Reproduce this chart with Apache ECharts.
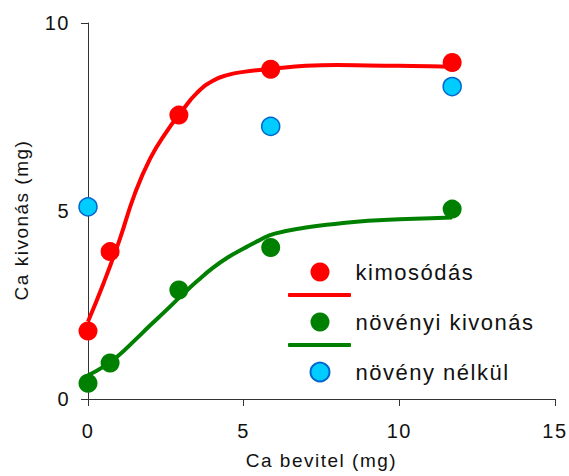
<!DOCTYPE html>
<html>
<head>
<meta charset="utf-8">
<script src="https://cdn.jsdelivr.net/npm/echarts@6/dist/echarts.min.js"></script>
<style>
html, body { margin: 0; padding: 0; background: #fff; }
#chart { width: 569px; height: 476px; }
#chart svg text { letter-spacing: 1.5px; }
</style>
</head>
<body>
<div id="chart"></div>
<script>
// Measured points
const kimosodasX = [0, 0.71, 2.92, 5.87, 11.7];
const kimosodasY = [1.81, 3.92, 7.55, 8.77, 8.95];
const novenyiX = [0, 0.71, 2.92, 5.87, 11.7];
const novenyiY = [0.42, 0.96, 2.90, 4.03, 5.05];
const nelkulX = [0, 5.87, 11.7];
const nelkulY = [5.11, 7.25, 8.31];
// Fitted curves
const kimCurveX = [0, 0.5, 1, 1.5, 2, 2.5, 3, 3.5, 4, 4.5, 5, 6, 7, 8, 9, 10, 11, 11.7];
const kimCurveY = [2.06, 3.08, 4.2, 5.45, 6.4, 7.08, 7.64, 8.14, 8.46, 8.62, 8.70, 8.79, 8.86, 8.88, 8.87, 8.86, 8.85, 8.83];
const novCurveX = [0, 0.5, 1, 1.5, 2, 2.5, 3, 3.5, 4, 4.5, 5, 5.5, 6, 7, 8, 9, 10, 11, 11.7];
const novCurveY = [0.63, 0.86, 1.17, 1.56, 1.96, 2.35, 2.75, 3.13, 3.48, 3.77, 4.0, 4.22, 4.4, 4.56, 4.66, 4.74, 4.78, 4.81, 4.83];
// Axis ticks
const xTicks = [0, 5, 10, 15];
const yTicks = [0, 5, 10];
const seriesNames = ['kimosódás', 'növényi kivonás', 'növény nélkül'];

const zip = (xs, ys) => xs.map((x, i) => [x, ys[i]]);
const FONT = 'Liberation Sans, Arial, sans-serif';
const TXT = '#111';

const chart = echarts.init(document.getElementById('chart'), null, { renderer: 'svg' });
chart.setOption({
  animation: false,
  backgroundColor: '#fff',
  grid: { left: 88, right: 12, top: 23, bottom: 77, containLabel: false },
  xAxis: {
    type: 'value',
    min: xTicks[0], max: xTicks[xTicks.length - 1], interval: xTicks[1] - xTicks[0],
    name: 'Ca bevitel (mg)', nameLocation: 'middle', nameGap: 52,
    nameTextStyle: { fontFamily: FONT, fontSize: 19, color: TXT },
    axisLine: { show: true, onZero: false, lineStyle: { color: '#333', width: 1 } },
    axisTick: { show: true, inside: false, length: 7, lineStyle: { color: '#333' } },
    axisLabel: { fontFamily: FONT, fontSize: 20, color: TXT, margin: 22 },
    splitLine: { show: false }
  },
  yAxis: {
    type: 'value',
    min: yTicks[0], max: yTicks[yTicks.length - 1], interval: yTicks[1] - yTicks[0],
    name: 'Ca kivonás (mg)', nameLocation: 'middle', nameGap: 57, nameRotate: 90,
    nameTextStyle: { fontFamily: FONT, fontSize: 19, color: TXT, padding: [0, 18, 0, 0] },
    axisLine: { show: true, onZero: false, lineStyle: { color: '#333', width: 1 } },
    axisTick: { show: true, inside: false, length: 7, lineStyle: { color: '#333' } },
    axisLabel: { fontFamily: FONT, fontSize: 20, color: TXT, margin: 18 },
    splitLine: { show: false }
  },
  legend: [
    {
      data: seriesNames, orient: 'vertical', left: 309.5, top: 261, padding: 0,
      itemWidth: 19, itemHeight: 19, itemGap: 28, selectedMode: false,
      textStyle: { fontFamily: FONT, fontSize: 22, color: TXT, padding: [0, 0, 0, 21] }
    },
    {
      data: [{ name: 'kimosódás görbe', icon: 'roundRect' }], left: 288, top: 293, padding: 0,
      itemWidth: 63, itemHeight: 4, selectedMode: false, formatter: () => '',
      textStyle: { fontSize: 4 }
    },
    {
      data: [{ name: 'növényi kivonás görbe', icon: 'roundRect' }], left: 288, top: 343, padding: 0,
      itemWidth: 63, itemHeight: 4, selectedMode: false, formatter: () => '',
      textStyle: { fontSize: 4 }
    }
  ],
  series: [
    {
      name: 'kimosódás görbe', type: 'line', smooth: true, showSymbol: false,
      data: zip(kimCurveX, kimCurveY), z: 2,
      lineStyle: { color: '#ff0000', width: 4 }, itemStyle: { color: '#ff0000' }
    },
    {
      name: 'növényi kivonás görbe', type: 'line', smooth: true, showSymbol: false,
      data: zip(novCurveX, novCurveY), z: 2,
      lineStyle: { color: '#008000', width: 4 }, itemStyle: { color: '#008000' }
    },
    {
      name: seriesNames[0], type: 'scatter', symbol: 'circle', symbolSize: 19, z: 3,
      data: zip(kimosodasX, kimosodasY), itemStyle: { color: '#ff0000', opacity: 1 }
    },
    {
      name: seriesNames[1], type: 'scatter', symbol: 'circle', symbolSize: 19, z: 3,
      data: zip(novenyiX, novenyiY), itemStyle: { color: '#008000', opacity: 1 }
    },
    {
      name: seriesNames[2], type: 'scatter', symbol: 'circle', symbolSize: 18, z: 3,
      data: zip(nelkulX, nelkulY),
      itemStyle: { color: '#00ccff', borderColor: '#0066cc', borderWidth: 1.5, opacity: 1 }
    }
  ]
});
</script>
</body>
</html>
